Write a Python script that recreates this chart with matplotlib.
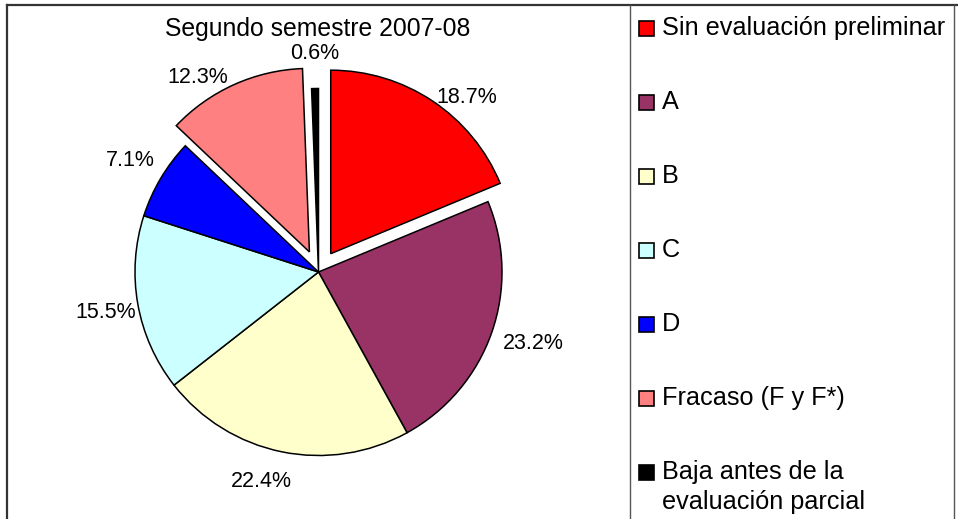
import matplotlib
matplotlib.use('Agg')
import matplotlib.pyplot as plt
from matplotlib.patches import Rectangle
from matplotlib.transforms import Affine2D

plt.rcParams['font.family'] = ['Liberation Sans', 'DejaVu Sans']

# data
labels = ['Sin evaluación preliminar', 'A', 'B', 'C', 'D', 'Fracaso (F y F*)',
          'Baja antes de la\nevaluación parcial']
values = [18.7, 23.2, 22.4, 15.5, 7.1, 12.3, 0.6]
colors = ['#FF0000', '#993366', '#FFFFCC', '#CCFFFF', '#0000FF', '#FF8080', '#000000']
explode = [0.12, 0, 0, 0, 0, 0.12, 0]
title = 'Segundo semestre 2007-08'

W, H = 958, 519
fig = plt.figure(figsize=(W / 100, H / 100), dpi=100)
# pixel coords measured from top-left
px = Affine2D().scale(1 / W, -1 / H).translate(0, 1) + fig.transFigure

# pie centre at (318.5, 272) px, radius 183.5 px
cx, cy, r = 318.5, 272, 183.5
ax = fig.add_axes([0, 0, 1, 1])
wedges, texts, autotexts = ax.pie(values, colors=colors, explode=explode,
                                  startangle=90, counterclock=False,
                                  autopct='%.1f%%', pctdistance=1.19,
                                  wedgeprops=dict(edgecolor='black', linewidth=1.1),
                                  textprops=dict(fontsize=15.5))
# Excel puts the labels of the pulled-out slices a bit closer in
autotexts[0].set_position((0.81, 0.95))
autotexts[5].set_position((-0.66, 1.06))
autotexts[3].set_position((-1.16, -0.22))
autotexts[1].set_position((1.17, -0.39))
autotexts[2].set_position((-0.31, -1.14))
ax.set_xlim(-cx / r, (W - cx) / r)
ax.set_ylim(-(H - cy) / r, cy / r)
ax.axis('off')

fig.text(318, 29, title, transform=px, ha='center', va='center', fontsize=17.8)

# legend drawn by hand (Excel style, evenly spaced rows)
for i, (lab, col) in enumerate(zip(labels, colors)):
    y = 28 + i * 74
    fig.add_artist(Rectangle((639, y - 7.5), 15, 15, transform=px,
                             facecolor=col, edgecolor='black', linewidth=1.2))
    fig.text(662, y - 12, lab, transform=px, ha='left', va='top',
             fontsize=18.2, linespacing=1.3)

# frame lines
fig.add_artist(plt.Line2D([7, W], [5, 5], transform=px, color='#333333', lw=1.6))
fig.add_artist(plt.Line2D([7, 7], [5, H], transform=px, color='#333333', lw=1.6))
fig.add_artist(plt.Line2D([630, 630], [5, H], transform=px, color='#555555', lw=1))
fig.add_artist(plt.Line2D([954, 954], [5, H], transform=px, color='#555555', lw=1))

fig.savefig('out.png', dpi=100)
